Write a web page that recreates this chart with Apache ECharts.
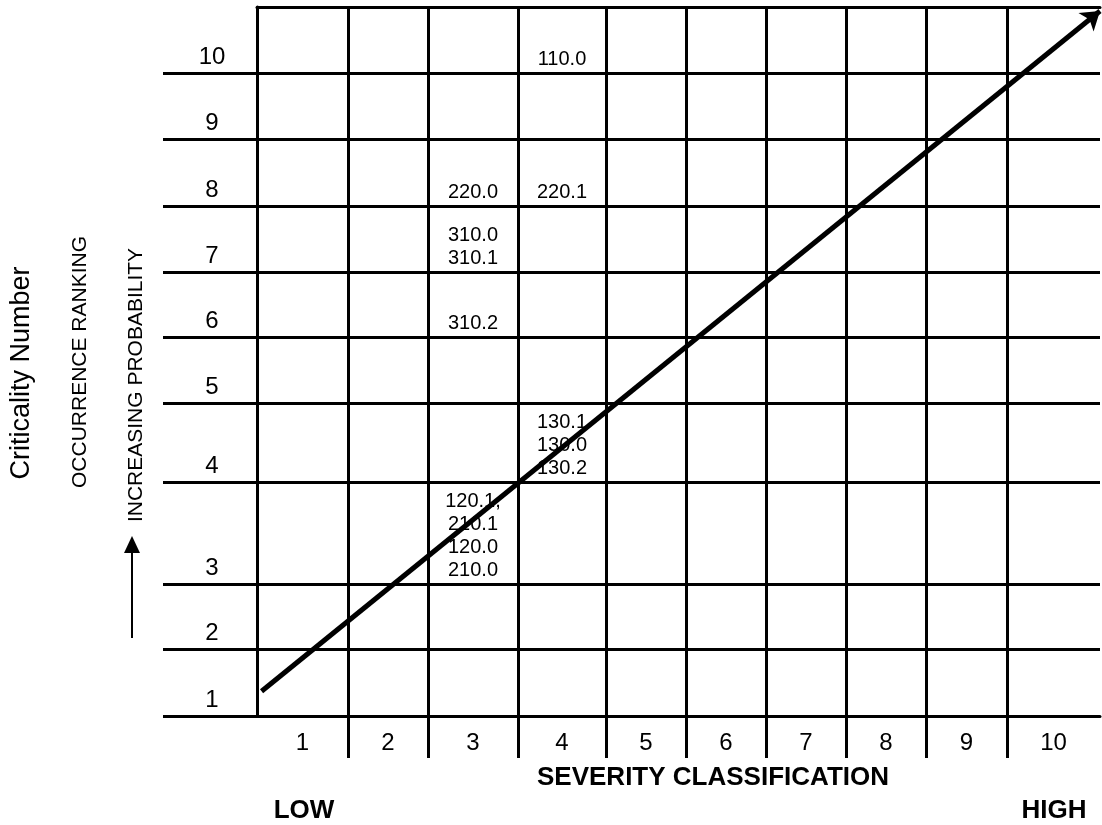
<!DOCTYPE html>
<html>
<head>
<meta charset="utf-8">
<title>Criticality Matrix</title>
<script src="https://cdn.jsdelivr.net/npm/echarts@6/dist/echarts.min.js"></script>
<style>
  html, body { margin: 0; padding: 0; background: #fff; }
  #chart { width: 1102px; height: 825px; }
</style>
</head>
<body>
<div id="chart"></div>
<script>
// 轴刻度文字
const severityLabels = ['1', '2', '3', '4', '5', '6', '7', '8', '9', '10'];
const occurrenceLabels = ['1', '2', '3', '4', '5', '6', '7', '8', '9', '10'];

// 每个条目所在的格子: 严重度(列), 发生等级(行), 编号
const itemSeverity = [4, 3, 4, 3, 3, 4, 3];
const itemOccurrence = [10, 8, 8, 7, 6, 4, 3];
const itemCodes = [
  '110.0',
  '220.0',
  '220.1',
  '310.0\n310.1',
  '310.2',
  '130.1\n130.0\n130.2',
  '120.1,\n210.1\n120.0\n210.0'
];

// 趋势箭头的起点和终点 (单位: 格)
const trendStart = [0.05, 0.37];
const trendEnd = [10, 9.94];

// 表格布局: 列宽 / 行高(从下往上)
const colWidths = [91, 80, 90, 88, 80, 80, 80, 80, 81, 93];
const rowHeights = [67, 65, 102, 79, 66, 65, 66, 67, 66, 66];

const FONT = 'Liberation Sans, Arial, sans-serif';

function edges(sizes) {
  const acc = [0];
  sizes.forEach(s => acc.push(acc[acc.length - 1] + s));
  return acc;
}
const colEdges = edges(colWidths);
const rowEdges = edges(rowHeights);

// 格子单位 -> 轴上的值
function toAxis(cells, sizes, e) {
  const i = Math.min(Math.floor(cells), sizes.length - 1);
  return e[i] + (cells - i) * sizes[i];
}
const colCenters = severityLabels.map((_, i) => toAxis(i + 0.5, colWidths, colEdges));
const rowBottoms = rowEdges.slice(0, 10);

function nearest(list, v) {
  let best = 0;
  list.forEach((c, i) => { if (Math.abs(c - v) < Math.abs(list[best] - v)) best = i; });
  return best;
}

const blackLine = { color: '#000', width: 3 };

const chart = echarts.init(document.getElementById('chart'));
const option = {
  animation: false,
  backgroundColor: '#fff',
  textStyle: { fontFamily: FONT, color: '#000' },
  grid: { left: 257, right: 2, top: 7, bottom: 109, containLabel: false },
  xAxis: [
    {
      type: 'value',
      min: 0,
      max: colEdges[10],
      axisLine: { show: true, onZero: false, lineStyle: blackLine },
      axisTick: { show: true, inside: false, length: 42, customValues: colEdges.slice(1, 10), lineStyle: blackLine },
      splitLine: { show: true, lineStyle: blackLine },
      axisLabel: {
        customValues: colCenters,
        formatter: v => severityLabels[nearest(colCenters, v)],
        fontSize: 24,
        color: '#000',
        fontFamily: FONT,
        margin: 15
      }
    },
    {
      // 顶部边框
      type: 'value',
      position: 'top',
      min: 0,
      max: colEdges[10],
      axisLine: { show: true, onZero: false, lineStyle: blackLine },
      axisTick: { show: false },
      axisLabel: { show: false },
      splitLine: { show: false }
    }
  ],
  yAxis: {
    type: 'value',
    min: 0,
    max: rowEdges[10],
    axisLine: { show: true, onZero: false, lineStyle: blackLine },
    axisTick: { show: true, inside: false, length: 94, customValues: rowBottoms, lineStyle: blackLine },
    splitLine: { show: true, lineStyle: blackLine },
    axisLabel: {
      customValues: rowBottoms,
      formatter: v => occurrenceLabels[nearest(rowBottoms, v)],
      fontSize: 24,
      color: '#000',
      fontFamily: FONT,
      align: 'center',
      verticalAlign: 'bottom',
      padding: [0, 0, 4, 0],
      margin: 45
    }
  },
  series: [
    {
      type: 'scatter',
      z: 2,
      symbolSize: 1,
      itemStyle: { color: 'rgba(0,0,0,0)', opacity: 1 },
      silent: true,
      label: {
        show: true,
        position: 'top',
        distance: 2,
        formatter: p => p.value[2],
        fontSize: 20,
        lineHeight: 23,
        color: '#000',
        opacity: 1,
        fontFamily: FONT,
        align: 'center'
      },
      data: itemCodes.map((t, i) => [colCenters[itemSeverity[i] - 1], rowBottoms[itemOccurrence[i] - 1], t])
    },
    {
      type: 'lines',
      coordinateSystem: 'cartesian2d',
      z: 5,
      clip: false,
      silent: true,
      symbol: ['none', 'arrow'],
      symbolSize: 18,
      lineStyle: { color: '#000', width: 5, opacity: 1, type: 'solid' },
      data: [{
        coords: [
          [toAxis(trendStart[0], colWidths, colEdges), toAxis(trendStart[1], rowHeights, rowEdges)],
          [toAxis(trendEnd[0], colWidths, colEdges), toAxis(trendEnd[1], rowHeights, rowEdges)]
        ]
      }]
    }
  ],
  graphic: [
    {
      type: 'text', x: 22, y: 373, rotation: Math.PI / 2,
      style: { text: 'Criticality Number', fontSize: 27, fontFamily: FONT, fill: '#000',
        align: 'center', verticalAlign: 'middle', textAlign: 'center', textVerticalAlign: 'middle' }
    },
    {
      type: 'text', x: 80, y: 362, rotation: Math.PI / 2,
      style: { text: 'OCCURRENCE RANKING', fontSize: 21, fontFamily: FONT, fill: '#000',
        align: 'center', verticalAlign: 'middle', textAlign: 'center', textVerticalAlign: 'middle' }
    },
    {
      type: 'text', x: 136, y: 385, rotation: Math.PI / 2,
      style: { text: 'INCREASING PROBABILITY', fontSize: 21, fontFamily: FONT, fill: '#000',
        align: 'center', verticalAlign: 'middle', textAlign: 'center', textVerticalAlign: 'middle' }
    },
    {
      type: 'line',
      shape: { x1: 132, y1: 638, x2: 132, y2: 550 },
      style: { stroke: '#000', lineWidth: 2 }
    },
    {
      type: 'polygon',
      shape: { points: [[124, 553], [140, 553], [132, 536]] },
      style: { fill: '#000' }
    },
    {
      type: 'text', x: 713, y: 778,
      style: { text: 'SEVERITY CLASSIFICATION', fontSize: 26, fontWeight: 'bold', fontFamily: FONT, fill: '#000',
        align: 'center', verticalAlign: 'middle', textAlign: 'center', textVerticalAlign: 'middle' }
    },
    {
      type: 'text', x: 304, y: 811,
      style: { text: 'LOW', fontSize: 26, fontWeight: 'bold', fontFamily: FONT, fill: '#000',
        align: 'center', verticalAlign: 'middle', textAlign: 'center', textVerticalAlign: 'middle' }
    },
    {
      type: 'text', x: 1054, y: 811,
      style: { text: 'HIGH', fontSize: 26, fontWeight: 'bold', fontFamily: FONT, fill: '#000',
        align: 'center', verticalAlign: 'middle', textAlign: 'center', textVerticalAlign: 'middle' }
    }
  ]
};
chart.setOption(option);
</script>
</body>
</html>
